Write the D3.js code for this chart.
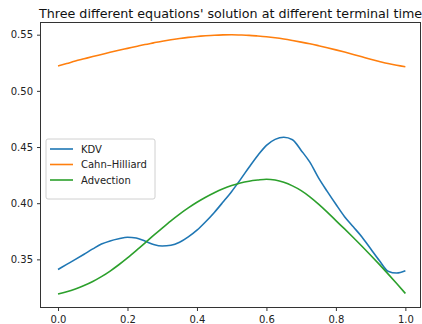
<!DOCTYPE html>
<html lang="en">
<head>
    <meta charset="UTF-8">
    <title>Three different equations' solution</title>
    <style>
        body {
            margin: 0;
            padding: 0;
            background: white;
            font-family: "DejaVu Sans", sans-serif;
        }
        svg { display: block; }
        .tick text { font-size: 10px; fill: #222; }
        .legend-text { font-size: 10px; fill: #222; }
    </style>
</head>
<body>
    <svg id="chart"></svg>

    <script src="https://cdnjs.cloudflare.com/ajax/libs/d3/7.9.0/d3.min.js"></script>
    <script>
        // grid points (x from 0 to 1)
        const xs = d3.range(41).map(i => i / 40);

        const kdv = [
            0.3410, 0.3455, 0.3500, 0.3546, 0.3593, 0.3636, 0.3664, 0.3683, 0.3697, 0.3690,
            0.3663, 0.3633, 0.3619, 0.3625, 0.3652, 0.3700, 0.3760, 0.3835, 0.3918, 0.4010,
            0.4105, 0.4210, 0.4320, 0.4425, 0.4515, 0.4568, 0.4587, 0.4565, 0.4470, 0.4365,
            0.4225, 0.4105, 0.3990, 0.3880, 0.3790, 0.3700, 0.3595, 0.3490, 0.3395, 0.3378,
            0.3398
        ];

        const cahnHilliard = [
            0.5222, 0.5243, 0.5265, 0.5285, 0.5305, 0.5324, 0.5343, 0.5361, 0.5378, 0.5395,
            0.5412, 0.5427, 0.5442, 0.5455, 0.5466, 0.5476, 0.5484, 0.5490, 0.5495, 0.5498,
            0.5499, 0.5497, 0.5494, 0.5488, 0.5481, 0.5472, 0.5461, 0.5448, 0.5434, 0.5419,
            0.5402, 0.5384, 0.5365, 0.5345, 0.5324, 0.5303, 0.5282, 0.5262, 0.5243, 0.5228,
            0.5215
        ];

        const advection = [
            0.3192, 0.3212, 0.3237, 0.3267, 0.3303, 0.3346, 0.3396, 0.3452, 0.3513, 0.3578,
            0.3645, 0.3713, 0.3779, 0.3843, 0.3903, 0.3958, 0.4008, 0.4053, 0.4093, 0.4128,
            0.4157, 0.4180, 0.4196, 0.4206, 0.4213, 0.4206, 0.4186, 0.4154, 0.4112, 0.4057,
            0.3992, 0.3921, 0.3845, 0.3771, 0.3695, 0.3617, 0.3537, 0.3455, 0.3371, 0.3285,
            0.3197
        ];

        const seriesNames = ['KDV', 'Cahn–Hilliard', 'Advection'];
        const seriesColors = ['#1f77b4', '#ff7f0e', '#2ca02c'];
        const xTicks = [0.0, 0.2, 0.4, 0.6, 0.8, 1.0];
        const yTicks = [0.35, 0.40, 0.45, 0.50, 0.55];

        const width = 422;
        const height = 324;
        const margin = { top: 23, right: 1, bottom: 17, left: 41 };

        const svg = d3.select('#chart')
            .attr('width', width)
            .attr('height', height);

        const x = d3.scaleLinear()
            .domain([-0.049, 1.045])
            .range([margin.left, width - margin.right]);

        const y = d3.scaleLinear()
            .domain([0.3076, 0.5604])
            .range([height - margin.bottom, margin.top]);

        // title
        svg.append('text')
            .attr('x', 39)
            .attr('y', 18)
            .attr('font-size', 12.7)
            .attr('fill', '#111')
            .text("Three different equations' solution at different terminal time");

        // lines
        const line = d3.line()
            .x((d, i) => x(xs[i]))
            .y(d => y(d))
            .curve(d3.curveMonotoneX);

        [kdv, cahnHilliard, advection].forEach((vals, i) => {
            svg.append('path')
                .datum(vals)
                .attr('fill', 'none')
                .attr('stroke', seriesColors[i])
                .attr('stroke-width', 1.6)
                .attr('stroke-linejoin', 'round')
                .attr('d', line);
        });

        // axes
        const xAxis = svg.append('g')
            .attr('transform', `translate(0,${height - margin.bottom})`)
            .call(d3.axisBottom(x).tickValues(xTicks).tickFormat(d3.format('.1f')).tickSizeOuter(0).tickSize(4).tickPadding(5));

        const yAxis = svg.append('g')
            .attr('transform', `translate(${margin.left},0)`)
            .call(d3.axisLeft(y).tickValues(yTicks).tickFormat(d3.format('.2f')).tickSizeOuter(0).tickSize(4).tickPadding(4));

        [xAxis, yAxis].forEach(g => {
            g.select('.domain').remove();
            g.selectAll('.tick line').attr('stroke', '#333');
            g.selectAll('.tick text').attr('font-family', 'DejaVu Sans');
        });

        // spines
        svg.append('rect')
            .attr('x', margin.left - 0.5)
            .attr('y', margin.top - 0.5)
            .attr('width', width - margin.right - margin.left)
            .attr('height', height - margin.bottom - margin.top + 1)
            .attr('fill', 'none')
            .attr('stroke', '#333')
            .attr('stroke-width', 1);

        // legend
        const legend = svg.append('g').attr('transform', 'translate(46,139)');

        legend.append('rect')
            .attr('width', 109)
            .attr('height', 60)
            .attr('rx', 2)
            .attr('fill', 'white')
            .attr('fill-opacity', 0.8)
            .attr('stroke', '#d0d0d0');

        seriesNames.forEach((name, i) => {
            const row = legend.append('g').attr('transform', `translate(0,${10 + i * 15.5})`);
            row.append('line')
                .attr('x1', 4).attr('x2', 27)
                .attr('stroke', seriesColors[i])
                .attr('stroke-width', 1.6);
            row.append('text')
                .attr('class', 'legend-text')
                .attr('x', 35)
                .attr('dy', '0.35em')
                .text(name);
        });
    </script>
</body>
</html>
